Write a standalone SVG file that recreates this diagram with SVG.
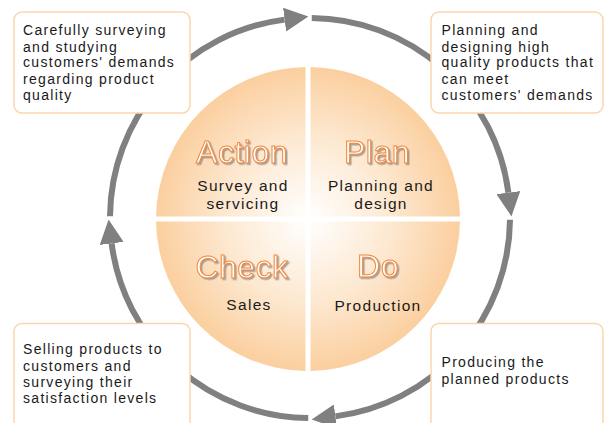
<svg xmlns="http://www.w3.org/2000/svg" width="605" height="423" viewBox="0 0 605 423">
  <defs>
    <radialGradient id="pieFill" gradientUnits="userSpaceOnUse" cx="308" cy="219" r="152">
      <stop offset="0" stop-color="#ffffff"/>
      <stop offset="0.55" stop-color="#fde8d0"/>
      <stop offset="1" stop-color="#fbcf9f"/>
    </radialGradient>
    <filter id="labelShadow" x="-10%" y="-20%" width="130%" height="150%">
      <feDropShadow dx="1.5" dy="1.5" stdDeviation="0.6" flood-color="#808080" flood-opacity="0.7"/>
    </filter>
    <marker id="arrowHead" markerUnits="userSpaceOnUse" markerWidth="24" markerHeight="24" viewBox="0 0 22 22" refX="0" refY="11" orient="auto">
      <path d="M0,0 L22,11 L0,22 Z" fill="#808080"/>
    </marker>
  </defs>
  <style>
    .sector { fill: url(#pieFill); }
    .phase { font-family: "Liberation Sans", Arial, sans-serif; font-size: 32px; letter-spacing: 0.5px; fill: #fffbf7; stroke: #ef8a3c; stroke-width: 1; text-anchor: middle; filter: url(#labelShadow); }
    .task { font-family: "Liberation Sans", Arial, sans-serif; font-size: 15.5px; letter-spacing: 1.3px; fill: #1a1a1a; text-anchor: middle; }
    .note rect { fill: #ffffff; stroke: #fbd6aa; stroke-width: 1.5; }
    .note text { font-family: "Liberation Sans", Arial, sans-serif; font-size: 14px; letter-spacing: 1.3px; fill: #1a1a1a; }
    .cycle path { fill: none; stroke: #808080; stroke-width: 6; marker-end: url(#arrowHead); }
  </style>

  <rect width="605" height="423" fill="#ffffff"/>

  <!-- four quadrants of the cycle -->
  <g id="action">
    <path class="sector" d="M305.5,216.5 V67.02 A152,152 0 0 0 156.02,216.5 Z"/>
    <text class="phase" x="242" y="163">Action</text>
    <text class="task" x="243" y="191">Survey and</text>
    <text class="task" x="243" y="209">servicing</text>
  </g>
  <g id="plan">
    <path class="sector" d="M310.5,216.5 V67.02 A152,152 0 0 1 459.98,216.5 Z"/>
    <text class="phase" x="377" y="163">Plan</text>
    <text class="task" x="381" y="191">Planning and</text>
    <text class="task" x="381" y="209">design</text>
  </g>
  <g id="check">
    <path class="sector" d="M305.5,221.5 V370.98 A152,152 0 0 1 156.02,221.5 Z"/>
    <text class="phase" x="242" y="278">Check</text>
    <text class="task" x="249" y="310">Sales</text>
  </g>
  <g id="do">
    <path class="sector" d="M310.5,221.5 H459.98 A152,152 0 0 1 310.5,370.98 Z"/>
    <text class="phase" x="378" y="277">Do</text>
    <text class="task" x="378" y="311">Production</text>
  </g>

  <!-- clockwise ring of arrows -->
  <g id="connectors" class="cycle">
    <path d="M110,216.25 A200,200 0 0 1 284.59,19.62"/>
    <path d="M311.75,18.01 A200,200 0 0 1 508.38,192.59"/>
    <path d="M510,219.75 A200,200 0 0 1 335.41,416.38"/>
    <path d="M308.25,418 A200,200 0 0 1 111.62,243.41"/>
  </g>

  <!-- description notes -->
  <g id="note-action" class="note">
    <rect x="14" y="12" width="176" height="101" rx="8"/>
    <text x="23" y="35">Carefully surveying</text>
    <text x="23" y="51.5">and studying</text>
    <text x="23" y="67">customers' demands</text>
    <text x="23" y="83.5">regarding product</text>
    <text x="23" y="100">quality</text>
  </g>
  <g id="note-plan" class="note">
    <rect x="431" y="12" width="172" height="101" rx="8"/>
    <text x="441.5" y="35">Planning and</text>
    <text x="441.5" y="51.5">designing high</text>
    <text x="441.5" y="67">quality products that</text>
    <text x="441.5" y="83.5">can meet</text>
    <text x="441.5" y="100">customers' demands</text>
  </g>
  <g id="note-check" class="note">
    <rect x="14" y="323.5" width="176" height="110" rx="8"/>
    <text x="23" y="354">Selling products to</text>
    <text x="23" y="370.5">customers and</text>
    <text x="23" y="386.5">surveying their</text>
    <text x="23" y="403">satisfaction levels</text>
  </g>
  <g id="note-do" class="note">
    <rect x="431" y="323.5" width="172" height="110" rx="8"/>
    <text x="441.5" y="367">Producing the</text>
    <text x="441.5" y="384">planned products</text>
  </g>
</svg>
